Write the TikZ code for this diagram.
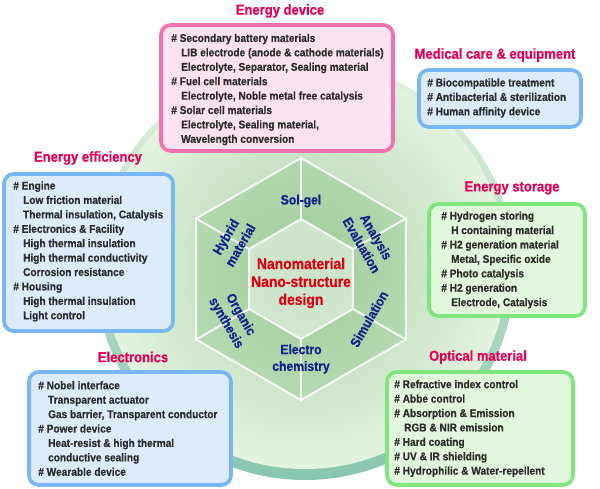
\documentclass[tikz,border=0pt]{standalone}
\usepackage{fontspec}
\setmainfont{Liberation Sans}
\newfontfamily\narrowsans{Liberation Sans}[FakeStretch=0.9, BoldFeatures={FakeBold=0.6}]
\usetikzlibrary{shapes.geometric}

\definecolor{titlered}{RGB}{232,0,88}
\definecolor{pinkline}{RGB}{242,112,172}
\definecolor{pinkfill}{RGB}{253,226,240}
\definecolor{blueline}{RGB}{120,182,246}
\definecolor{bluefill}{RGB}{220,236,252}
\definecolor{greenline}{RGB}{126,230,126}
\definecolor{greenfill}{RGB}{226,248,220}
\definecolor{itemgray}{RGB}{45,45,45}
\definecolor{hexblue}{RGB}{16,32,140}
\definecolor{hexred}{RGB}{224,0,16}
\definecolor{hexgreen}{RGB}{150,200,145}
\definecolor{rimteal}{RGB}{136,198,176}
\definecolor{circlelight}{RGB}{228,243,224}
\definecolor{circledark}{RGB}{172,211,166}

\newcommand{\ind}{\hspace*{7pt}}

\tikzset{
  infobox/.style 2 args={draw=#1, fill=#2, line width=2.6pt, rounded corners=7pt, inner sep=0pt},
  itemtext/.style={anchor=west, align=left, inner sep=0pt, text=itemgray,
    font={\narrowsans\bfseries\fontsize{8}{10.25}\selectfont}},
  boxtitle/.style={text=titlered, font={\narrowsans\bfseries\fontsize{10.3}{12}\selectfont}},
  hexlabel/.style={align=center, text=hexblue, font={\narrowsans\bfseries\fontsize{9.6}{11.9}\selectfont}},
  hexline/.style={draw=white, draw opacity=0.85, line width=1.4pt},
  hexagon/.style={regular polygon, regular polygon sides=6, shape border rotate=30, inner sep=0pt},
}

\begin{document}
\begin{tikzpicture}[x=0.025cm, y=-0.025cm]
  \useasboundingbox (0,0) rectangle (600,488);

  % background disc
  \shade[top color=circlelight, bottom color=rimteal] (305,270) circle (210);
  \shade[inner color=circledark, outer color=circlelight] (305,267) circle (202);

  % hexagon of methods
  \node[hexagon, hexline, minimum size=6.05cm, fill=hexgreen, fill opacity=0.45] (outerhex) at (301,279) {};
  \node[hexagon, hexline, minimum size=3cm, fill=white, fill opacity=0.45] (innerhex) at (301,279) {};
  \foreach \c in {1,...,6}
    \draw[hexline] (innerhex.corner \c) -- (outerhex.corner \c);

  \node[hexlabel] (solgel) at (301,201) {Sol-gel};
  \node[hexlabel, rotate=-60] (analysis) at (369,241) {Analysis\\Evaluation};
  \node[hexlabel, rotate=60] (simulation) at (369,319) {Simulation};
  \node[hexlabel] (electro) at (301,359) {Electro\\chemistry};
  \node[hexlabel, rotate=-60] (organic) at (233,319) {Organic\\synthesis};
  \node[hexlabel, rotate=60] (hybrid) at (233,241) {Hybrid\\material};
  \node[align=center, text=hexred, font={\narrowsans\bfseries\fontsize{11}{12.7}\selectfont}]
    (core) at (301,283) {Nanomaterial\\Nano-structure\\design};

  % Energy device
  \node[infobox={pinkline}{pinkfill}, minimum width=5.8cm, minimum height=3.15cm] (device) at (277,88) {};
  \node[itemtext] (devicetext) at (171,89.5) {\# Secondary battery materials\\
    \ind LIB electrode (anode \& cathode materials)\\
    \ind Electrolyte, Separator, Sealing material\\
    \# Fuel cell materials\\
    \ind Electrolyte, Noble metal free catalysis\\
    \# Solar cell materials\\
    \ind Electrolyte, Sealing material,\\
    \ind Wavelength conversion};
  \node[boxtitle] (devicetitle) at (280,11) {Energy device};

  % Medical care
  \node[infobox={blueline}{bluefill}, minimum width=4.05cm, minimum height=1.425cm] (medical) at (500,98.5) {};
  \node[itemtext] (medicaltext) at (427,98) {\# Biocompatible treatment\\
    \# Antibacterial \& sterilization\\
    \# Human affinity device};
  \node[boxtitle] (medicaltitle) at (495,55) {Medical care \& equipment};

  % Energy efficiency
  \node[infobox={blueline}{bluefill}, minimum width=4.225cm, minimum height=3.925cm] (efficiency) at (88.5,252.5) {};
  \node[itemtext] (efficiencytext) at (13,251.5) {\# Engine\\
    \ind Low friction material\\
    \ind Thermal insulation, Catalysis\\
    \# Electronics \& Facility\\
    \ind High thermal insulation\\
    \ind High thermal conductivity\\
    \ind Corrosion resistance\\
    \# Housing\\
    \ind High thermal insulation\\
    \ind Light control};
  \node[boxtitle] (efficiencytitle) at (88,158) {Energy efficiency};

  % Energy storage
  \node[infobox={greenline}{greenfill}, minimum width=3.9cm, minimum height=2.8cm] (storage) at (507,260) {};
  \node[itemtext] (storagetext) at (441,260) {\# Hydrogen storing\\
    \ind H containing material\\
    \# H2 generation material\\
    \ind Metal, Specific oxide\\
    \# Photo catalysis\\
    \# H2 generation\\
    \ind Electrode, Catalysis};
  \node[boxtitle] (storagetitle) at (512,188) {Energy storage};

  % Electronics
  \node[infobox={blueline}{bluefill}, minimum width=5.05cm, minimum height=2.825cm] (electronics) at (130,428.5) {};
  \node[itemtext] (electronicstext) at (38,428.5) {\# Nobel interface\\
    \ind Transparent actuator\\
    \ind Gas barrier, Transparent conductor\\
    \# Power device\\
    \ind Heat-resist \& high thermal\\
    \ind conductive sealing\\
    \# Wearable device};
  \node[boxtitle] (electronicstitle) at (133,357) {Electronics};

  % Optical material
  \node[infobox={greenline}{greenfill}, minimum width=4.65cm, minimum height=2.825cm] (optical) at (480,428.5) {};
  \node[itemtext] (opticaltext) at (394,428.5) {\# Refractive index control\\
    \# Abbe control\\
    \# Absorption \& Emission\\
    \ind RGB \& NIR emission\\
    \# Hard coating\\
    \# UV \& IR shielding\\
    \# Hydrophilic \& Water-repellent};
  \node[boxtitle] (opticaltitle) at (478,357) {Optical material};
\end{tikzpicture}
\end{document}
